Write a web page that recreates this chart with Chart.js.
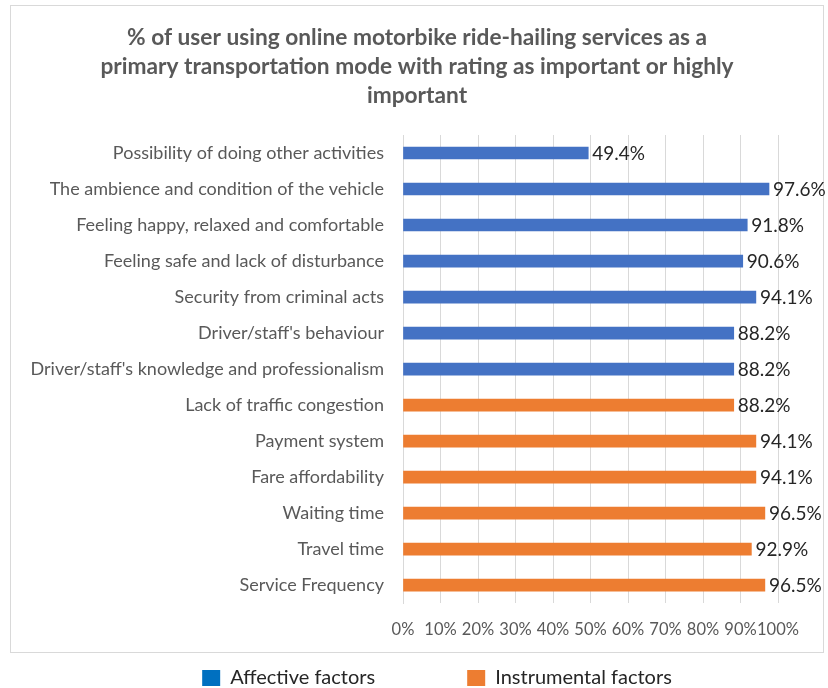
<!DOCTYPE html>
<html>
<head>
<meta charset="utf-8">
<title>Ride-hailing factors</title>
<script src="https://cdn.jsdelivr.net/npm/chart.js@4.4.1/dist/chart.umd.min.js"></script>
<style>
  html, body { margin: 0; padding: 0; background: #fff; }
</style>
</head>
<body>
<canvas id="factorChart" width="828" height="688"></canvas>
<script>
const categories = [
    "Possibility of doing other activities",
    "The ambience and condition of the vehicle",
    "Feeling happy, relaxed and comfortable",
    "Feeling safe and lack of disturbance",
    "Security from criminal acts",
    "Driver/staff's behaviour",
    "Driver/staff's knowledge and professionalism",
    "Lack of traffic congestion",
    "Payment system",
    "Fare affordability",
    "Waiting time",
    "Travel time",
    "Service Frequency",
];

const affective = [49.4, 97.6, 91.8, 90.6, 94.1, 88.2, 88.2, null, null, null, null, null, null];
const instrumental = [null, null, null, null, null, null, null, 88.2, 94.1, 94.1, 96.5, 92.9, 96.5];

const seriesNames = ["Affective factors", "Instrumental factors"];
const titleLines = [
    "% of user using online motorbike ride-hailing services as a",
    "primary transportation mode with rating as important or highly",
    "important",
];

const FONT = "Lato, 'Liberation Sans', sans-serif";
const BAR_COLORS = ["#4472C4", "#ED7D31"];
const KEY_COLORS = ["#0070C0", "#ED7D31"];

// white background, outer frame and the centred three-line heading
const framePlugin = {
    id: "frame",
    beforeDraw(chart) {
        const ctx = chart.ctx;
        ctx.save();
        ctx.fillStyle = "#fff";
        ctx.fillRect(0, 0, chart.width, chart.height);
        ctx.strokeStyle = "#d9d9d9";
        ctx.lineWidth = 1;
        ctx.strokeRect(10.5, 5.5, 813, 647);

        ctx.font = "bold 22.7px " + FONT;
        ctx.fillStyle = "#595959";
        ctx.textAlign = "center";
        ctx.textBaseline = "middle";
        titleLines.forEach((line, i) => {
            ctx.fillText(line, 417, 38 + i * 28.6);
        });
        ctx.restore();
    },
};

// percentage printed just past the end of each bar
const valueLabels = {
    id: "valueLabels",
    afterDatasetsDraw(chart) {
        const ctx = chart.ctx;
        ctx.save();
        ctx.font = "19px " + FONT;
        ctx.fillStyle = "#262626";
        ctx.textAlign = "left";
        ctx.textBaseline = "middle";
        chart.data.datasets.forEach((ds, i) => {
            chart.getDatasetMeta(i).data.forEach((bar, j) => {
                const v = ds.data[j];
                if (v === null) return;
                ctx.fillText(v.toFixed(1) + "%", bar.x + 4, bar.y + 1);
            });
        });
        ctx.restore();
    },
};

// legend row under the frame
const bottomKey = {
    id: "bottomKey",
    afterDraw(chart) {
        const ctx = chart.ctx;
        ctx.save();
        ctx.font = "20px " + FONT;
        ctx.textBaseline = "middle";
        const box = 18, textGap = 10, itemGap = 92, y = 678;
        const widths = chart.data.datasets.map((ds) => ctx.measureText(ds.label).width);
        let total = 0;
        widths.forEach((w) => (total += box + textGap + w));
        total += itemGap * (widths.length - 1);
        let x = 437 - total / 2;
        chart.data.datasets.forEach((ds, i) => {
            ctx.fillStyle = KEY_COLORS[i];
            ctx.fillRect(x, y - 8, box, 16);
            ctx.fillStyle = "#262626";
            ctx.fillText(ds.label, x + box + textGap, y);
            x += box + textGap + widths[i] + itemGap;
        });
        ctx.restore();
    },
};

new Chart(document.getElementById("factorChart"), {
    type: "bar",
    data: {
        labels: categories,
        datasets: [
            {
                label: seriesNames[0],
                data: affective,
                backgroundColor: BAR_COLORS[0],
                barThickness: 12,
            },
            {
                label: seriesNames[1],
                data: instrumental,
                backgroundColor: BAR_COLORS[1],
                barThickness: 12,
            },
        ],
    },
    options: {
        indexAxis: "y",
        responsive: false,
        devicePixelRatio: 1,
        animation: false,
        layout: { padding: { top: 135, left: 0, right: 50, bottom: 31 } },
        scales: {
            x: {
                stacked: true,
                min: 0,
                max: 100,
                ticks: {
                    stepSize: 10,
                    padding: 17,
                    maxRotation: 0,
                    minRotation: 0,
                    autoSkip: false,
                    color: "#595959",
                    font: { family: FONT, size: 16.5 },
                    callback: (v) => v + "%",
                },
                grid: { color: "#d9d9d9", drawTicks: false },
                border: { display: false },
            },
            y: {
                stacked: true,
                afterFit(scale) {
                    scale.width = 403;
                },
                ticks: {
                    padding: 19,
                    color: "#595959",
                    font: { family: FONT, size: 18 },
                },
                grid: { display: false, drawTicks: false },
                border: { display: true, color: "#d9d9d9" },
            },
        },
        plugins: {
            legend: { display: false },
            tooltip: { enabled: false },
            title: { display: false },
        },
    },
    plugins: [framePlugin, valueLabels, bottomKey],
});
</script>
</body>
</html>
